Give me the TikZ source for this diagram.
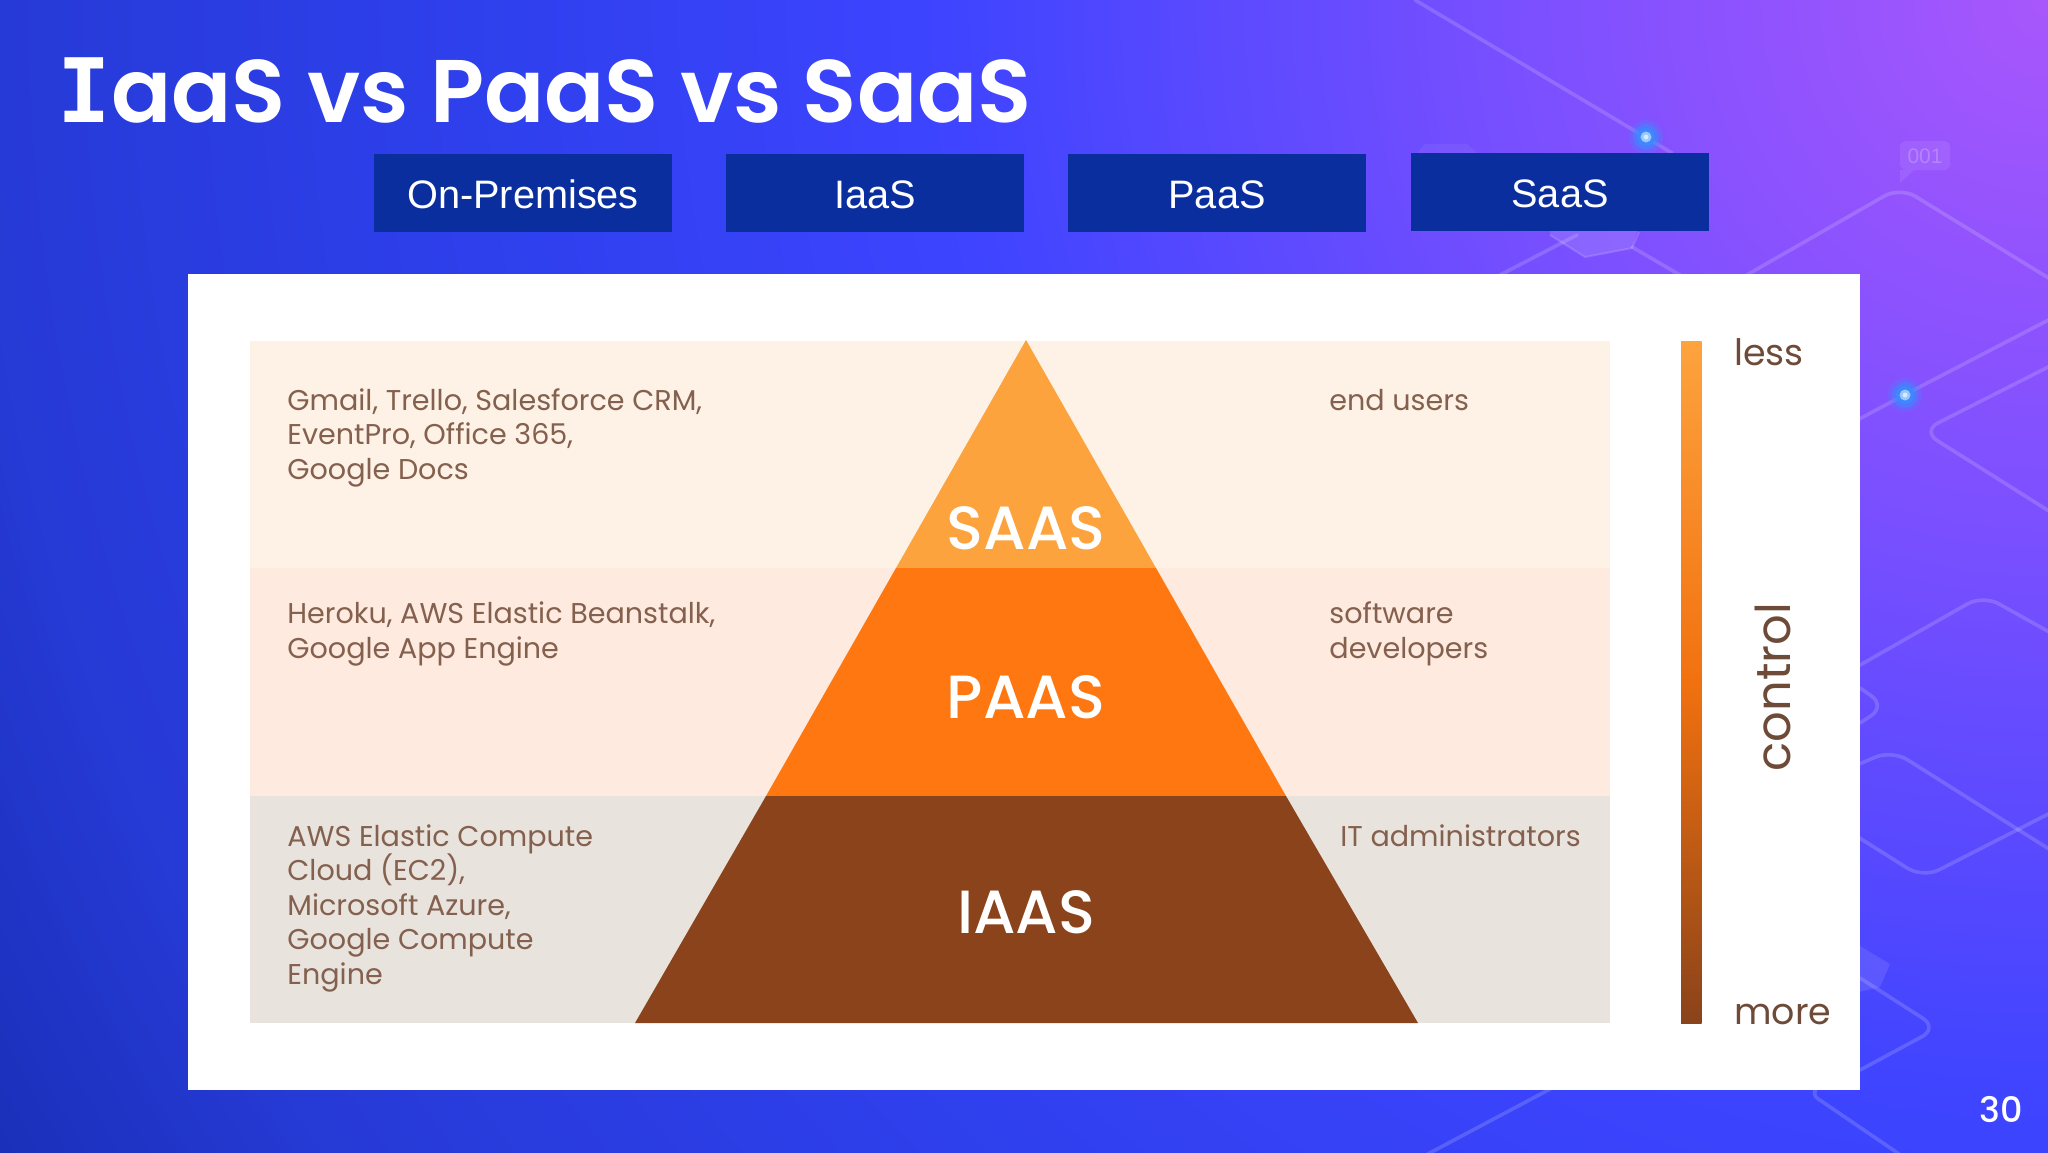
\documentclass[tikz,border=0pt]{standalone}
\usepackage{fontspec}
\setmainfont{Liberation Sans}
\newfontfamily\pop{Poppins}
\newfontfamily\popm{Poppins Medium}
\newfontfamily\pops{Poppins SemiBold}
\newfontfamily\ttlI{DejaVu Sans Mono}
\definecolor{boxblue}{HTML}{0B2E9E}
\definecolor{bandA}{HTML}{FEF1E5}
\definecolor{bandB}{HTML}{FEEADE}
\definecolor{bandC}{HTML}{E9E3DE}
\definecolor{pyrA}{HTML}{FDA33E}
\definecolor{pyrB}{HTML}{FE7710}
\definecolor{pyrC}{HTML}{8A431A}
\definecolor{bodytxt}{HTML}{84604E}
\definecolor{ctltxt}{HTML}{6E4A38}
\definecolor{glow}{HTML}{3A8CFF}
\definecolor{bgA}{HTML}{A857FC}
\definecolor{bgB}{HTML}{7D50FF}
\definecolor{bgC}{HTML}{3E44FF}
\definecolor{bgD}{HTML}{2F40EE}
\definecolor{bgE}{HTML}{263AD6}
\definecolor{bgF}{HTML}{182EB4}
\pgfdeclareradialshading{bgshade}{\pgfpoint{0bp}{0bp}}{%
  color(0bp)=(bgA);
  color(5.25bp)=(bgB);
  color(11.5bp)=(bgC);
  color(16bp)=(bgD);
  color(21.5bp)=(bgE);
  color(25bp)=(bgF);
  color(50bp)=(bgF)}
\tikzset{
  headbox/.style={fill=boxblue,text=white,minimum width=149pt,minimum height=39pt,inner sep=0pt,
    text height=15pt,text depth=0pt,font=\fontsize{19.85}{24}\selectfont},
  deco/.style={draw=white,draw opacity=.16,line width=1.8pt,rounded corners=9pt,line cap=round},
  bodytext/.style={inner sep=0pt,anchor=base west,align=left,text=bodytxt,
    font=\pop\fontsize{14.3}{17.25}\selectfont},
  scaletext/.style={inner sep=0pt,anchor=base west,text=ctltxt,font=\pop\fontsize{18.2}{22}\selectfont},
  pyrlabel/.style={inner sep=0pt,anchor=base,text=white,font=\popm\fontsize{30.5}{36}\selectfont},
}
\newcommand{\glowdot}[2]{%
  \fill[glow,opacity=.25] (#1,#2) circle (17);
  \fill[glow,opacity=.5] (#1,#2) circle (13);
  \fill[glow,opacity=.9] (#1,#2) circle (9);
  \fill[glow!50!white] (#1,#2) circle (5.5);
  \fill[white!80!cyan] (#1,#2) circle (2.5);
}
\begin{document}
\begin{tikzpicture}[x=0.5pt,y=-0.5pt]
\useasboundingbox (0,0) rectangle (2048,1152);
\begin{scope}
  \clip (0,0) rectangle (2048,1152);
  \shade[shading=bgshade] (-352,-2400) rectangle (4448,2400);
  % decorative background lines
  \draw[deco] (1415,0) -- (1672,153);
  \draw[deco] (1500,275) -- (1577,235);
  \draw[deco] (1632,247) -- (1680,275);
  \draw[deco] (1745,276) -- (1900,187) -- (2060,285);
  \draw[deco] (1850,424) -- (1906,394) -- (2060,314);
  \draw[deco] (2060,361) -- (1922,431) -- (2060,518);
  \draw[deco] (1860,665) -- (1983,595) -- (2060,638);
  \draw[deco] (1860,688) -- (1886,706) -- (1860,723);
  \draw[deco] (1850,768) -- (1892,750) -- (2060,856);
  \draw[deco] (1850,832) -- (1923,878) -- (2060,808);
  \draw[deco] (1860,978) -- (1938,1028) -- (1860,1070);
  \draw[deco,rounded corners=4pt] (1820,1085) -- (1811,1094) -- (1905,1158);
  \draw[deco] (1424,1156) -- (1552,1088);
  \fill[white,opacity=.05] (1417,153) -- (1425,144) -- (1467,144) -- (1478,153) -- cycle;
  \fill[white,opacity=.12] (1550,225) -- (1550,235) -- (1585,257) -- (1632,248) -- (1639,225) -- cycle;
  \draw[white,opacity=.15,line width=1pt] (1550,235) -- (1585,257) -- (1632,248) -- (1639,232);
  \fill[white,opacity=.1] (1850,940) -- (1890,964) -- (1880,987) -- (1850,994) -- cycle;
  \fill[white,opacity=.08,rounded corners=3pt] (1900,141) rectangle (1950,170);
  \fill[white,opacity=.08] (1900,170) -- (1900,183) -- (1914,170) -- cycle;
  \node[inner sep=0pt,text=white,text opacity=.22,font=\fontsize{10.5}{12}\selectfont] (bubble) at (1925,156) {001};
  \glowdot{1646}{137}
  \glowdot{1905}{395}
\end{scope}
% title
\node[inner sep=0pt,anchor=base west,text=white,font=\pops\fontsize{44.45}{54}\selectfont] (title) at (57.5,122)
  {{\ttlI\bfseries I}aaS vs PaaS vs SaaS};
% header boxes
\node[headbox] (hOn) at (523,193) {On-Premises};
\node[headbox] (hI) at (875,193) {IaaS};
\node[headbox] (hP) at (1217,193) {PaaS};
\node[headbox] (hS) at (1560,192) {SaaS};
% panel
\fill[white] (188,274) rectangle (1860,1090);
\fill[bandA] (250,341) rectangle (1610,568);
\fill[bandB] (250,568) rectangle (1610,796);
\fill[bandC] (250,796) rectangle (1610,1023);
% pyramid
\coordinate (apex) at (1026,340);
\coordinate (bl) at (635,1023);
\coordinate (br) at (1418,1023);
\coordinate (l1) at (896,568);
\coordinate (r1) at (1156,568);
\coordinate (l2) at (766,796);
\coordinate (r2) at (1286,796);
\fill[pyrA] (apex) -- (r1) -- (l1) -- cycle;
\fill[pyrB] (l1) -- (r1) -- (r2) -- (l2) -- cycle;
\fill[pyrC] (l2) -- (r2) -- (br) -- (bl) -- cycle;
\node[pyrlabel] (sl) at (1026,549.5) {SAAS};
\node[pyrlabel] (pl) at (1026,718.5) {PAAS};
\node[pyrlabel] (il) at (1026,933) {IAAS};
% left texts (a block's base is its last line)
\node[bodytext] (t1) at (287,479) {Gmail, Trello, Salesforce CRM,\\EventPro, Office 365,\\Google Docs};
\node[bodytext] (t2) at (287,658) {Heroku, AWS Elastic Beanstalk,\\Google App Engine};
\node[bodytext] (t3) at (287,984) {AWS Elastic Compute\\Cloud (EC2),\\Microsoft Azure,\\Google Compute\\Engine};
% right texts
\node[bodytext] (u1) at (1329,410) {end users};
\node[bodytext] (u2) at (1329,658) {software\\developers};
\node[bodytext] (u3) at (1340,846.5) {IT administrators};
% control bar
\shade[top color=pyrA,bottom color=pyrC,middle color=pyrB!95!black] (1681,341) rectangle (1701.5,1023);
\node[scaletext] (less) at (1734,365) {less};
\node[scaletext] (more) at (1734,1024) {more};
\node[scaletext,rotate=90,anchor=base,font=\pop\fontsize{24}{28}\selectfont] (ctl) at (1790,687) {control};
% page number
\node[inner sep=0pt,anchor=base,text=white,font=\popm\fontsize{17.5}{21}\selectfont] (pg) at (2001,1122) {30};
\end{tikzpicture}
\end{document}
